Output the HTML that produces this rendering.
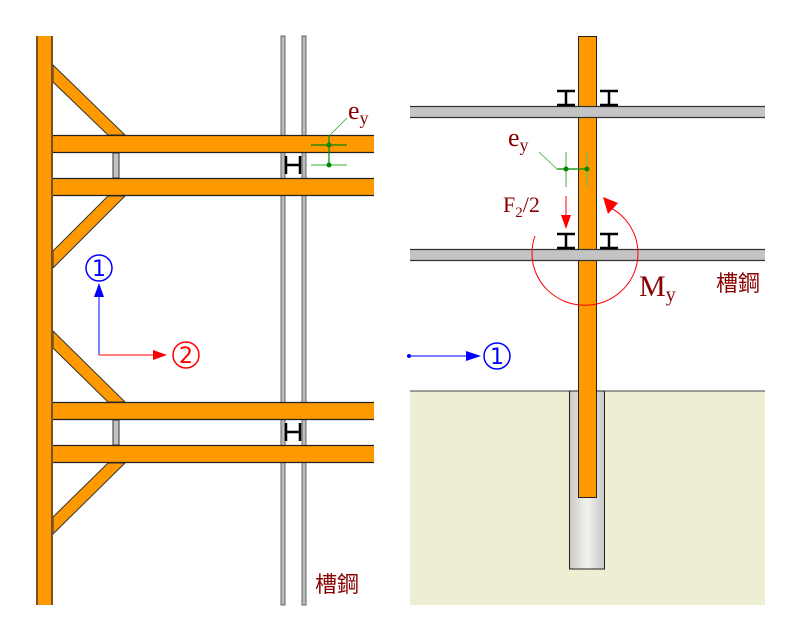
<!DOCTYPE html>
<html><head><meta charset="utf-8"><style>body{margin:0;background:#fff}svg{display:block}</style></head><body>
<svg width="800" height="640" viewBox="0 0 800 640" xmlns="http://www.w3.org/2000/svg" font-family="Liberation Serif, serif">
<defs>
<linearGradient id="sl" x1="0" x2="1" y1="0" y2="0"><stop offset="0" stop-color="#c8c8c8"/><stop offset="0.5" stop-color="#f2f2ee"/><stop offset="1" stop-color="#c8c8c8"/></linearGradient>
</defs>
<!-- LEFT -->
<g stroke="#333" stroke-width="1">
<rect x="281" y="36" width="4" height="569" fill="#bbb" stroke="#666"/>
<rect x="302" y="36" width="4" height="569" fill="#bbb" stroke="#666"/>
<polygon points="53,65 125,135 108,135 53,82" fill="#f90"/>
<polygon points="108,196 125,196 53,268 53,251" fill="#f90"/>
<polygon points="53,331 125,402 108,402 53,348" fill="#f90"/>
<polygon points="108,463 125,463 53,534 53,517" fill="#f90"/>
<rect x="113" y="153" width="6" height="25" fill="#c4c4c4"/>
<rect x="113" y="420" width="6" height="25" fill="#c4c4c4"/>
</g>
<g fill="#f90">
<rect x="53" y="135" width="321" height="18"/>
<rect x="53" y="178" width="321" height="18"/>
<rect x="53" y="402" width="321" height="18"/>
<rect x="53" y="445" width="321" height="18"/>
</g>
<g stroke="#222" stroke-width="1.2">
<path d="M53,135.5H374M53,152.5H374M53,178.5H374M53,195.5H374M53,402.5H374M53,419.5H374M53,445.5H374M53,462.5H374"/>
</g>
<rect x="36" y="36" width="17" height="569" fill="#f90"/>
<rect x="36" y="36" width="2" height="569" fill="#7a5020"/>
<rect x="51" y="36" width="2" height="569" fill="#7a5020"/>
<g stroke="#000" stroke-width="2.5" fill="none">
<path d="M286,156V174M300,156V174M286,165H300"/>
<path d="M286,423V441M300,423V441M286,432H300"/>
</g>
<g stroke="#080" stroke-width="1.2">
<line x1="311" y1="145" x2="347" y2="145"/>
<line x1="311" y1="165" x2="347" y2="165" stroke="#7c7" stroke-width="1.5"/>
<line x1="329" y1="136" x2="329" y2="165"/>
<line x1="329" y1="136" x2="347" y2="118" stroke-width="0.8" stroke="#3a3"/>
</g>
<circle cx="329" cy="145" r="2.5" fill="#080"/><circle cx="329" cy="165" r="2.5" fill="#080"/>
<text x="348" y="119" font-size="26" fill="#800">e<tspan font-size="18" dy="5">y</tspan></text>
<text x="315" y="592" font-size="22" fill="#800" font-family="Liberation Sans, Noto Sans CJK TC, sans-serif">槽鋼</text>
<line x1="99" y1="355" x2="99" y2="295" stroke="#00f"/>
<polygon points="99,283 94,297 104,297" fill="#00f"/>
<line x1="99" y1="355" x2="155" y2="355" stroke="#f00"/>
<polygon points="167,355 153,350 153,360" fill="#f00"/>
<circle cx="99" cy="268" r="13" fill="none" stroke="#00f" stroke-width="1.5"/>
<text x="99" y="276" font-size="22" fill="#00f" text-anchor="middle" font-family="DejaVu Sans, sans-serif">1</text>
<circle cx="186" cy="355" r="13" fill="none" stroke="#f00" stroke-width="1.5"/>
<text x="186" y="363" font-size="22" fill="#f00" text-anchor="middle" font-family="DejaVu Sans, sans-serif">2</text>
<!-- RIGHT -->
<rect x="410" y="391" width="355" height="214" fill="#eeeed2"/>
<line x1="410" y1="391" x2="765" y2="391" stroke="#444"/>
<rect x="569.5" y="391" width="35" height="178" fill="url(#sl)" stroke="#222"/>
<rect x="578.5" y="36.5" width="18" height="461" fill="#f90" stroke="#222"/>
<rect x="410" y="107" width="355" height="10" fill="#c4c4c4"/>
<rect x="410" y="250" width="355" height="10" fill="#c4c4c4"/>
<path d="M410,106.5H765M410,117.5H765M410,249.5H765M410,260.5H765" stroke="#333" stroke-width="1.2"/>
<g stroke="#000" stroke-width="2.5" fill="none">
<path d="M557,91H575M566,91V105M557,105H575M600,91H618M609,91V105M600,105H618"/>
<path d="M557,234H575M566,234V248M557,248H575M600,234H618M609,234V248M600,248H618"/>
</g>
<g stroke="#080" stroke-width="1.2">
<line x1="566" y1="152" x2="566" y2="187" stroke="#6b6"/>
<line x1="587" y1="152" x2="587" y2="187" stroke="#6b6"/>
<line x1="557" y1="169" x2="587" y2="169"/>
<line x1="557" y1="169" x2="539" y2="152" stroke="#6b6" stroke-width="0.9"/>
</g>
<circle cx="566" cy="169" r="2.5" fill="#080"/><circle cx="587" cy="169" r="2.5" fill="#080"/>
<text x="508" y="146" font-size="26" fill="#800">e<tspan font-size="18" dy="5">y</tspan></text>
<text x="503" y="212" font-size="22" fill="#800">F<tspan font-size="15" dy="5">2</tspan><tspan dy="-5">/2</tspan></text>
<line x1="566" y1="196" x2="566" y2="218" stroke="#f00"/>
<polygon points="566,229 561,215 571,215" fill="#f00"/>
<path d="M535,236 A53,52 0 1 0 611,208" fill="none" stroke="#f00" stroke-width="1"/>
<polygon points="603,197 618,203 608,214" fill="#f00"/>
<text x="639" y="296" font-size="30" fill="#800">M<tspan font-size="20" dy="5">y</tspan></text>
<text x="716" y="291" font-size="22" fill="#800" font-family="Liberation Sans, Noto Sans CJK TC, sans-serif">槽鋼</text>
<circle cx="409" cy="356" r="2" fill="#00f"/>
<line x1="409" y1="356" x2="468" y2="356" stroke="#00f"/>
<polygon points="481,356 466,351 466,361" fill="#00f"/>
<circle cx="497" cy="356" r="13" fill="none" stroke="#00f" stroke-width="1.5"/>
<text x="497" y="364" font-size="22" fill="#00f" text-anchor="middle" font-family="DejaVu Sans, sans-serif">1</text>
</svg>
</body></html>
